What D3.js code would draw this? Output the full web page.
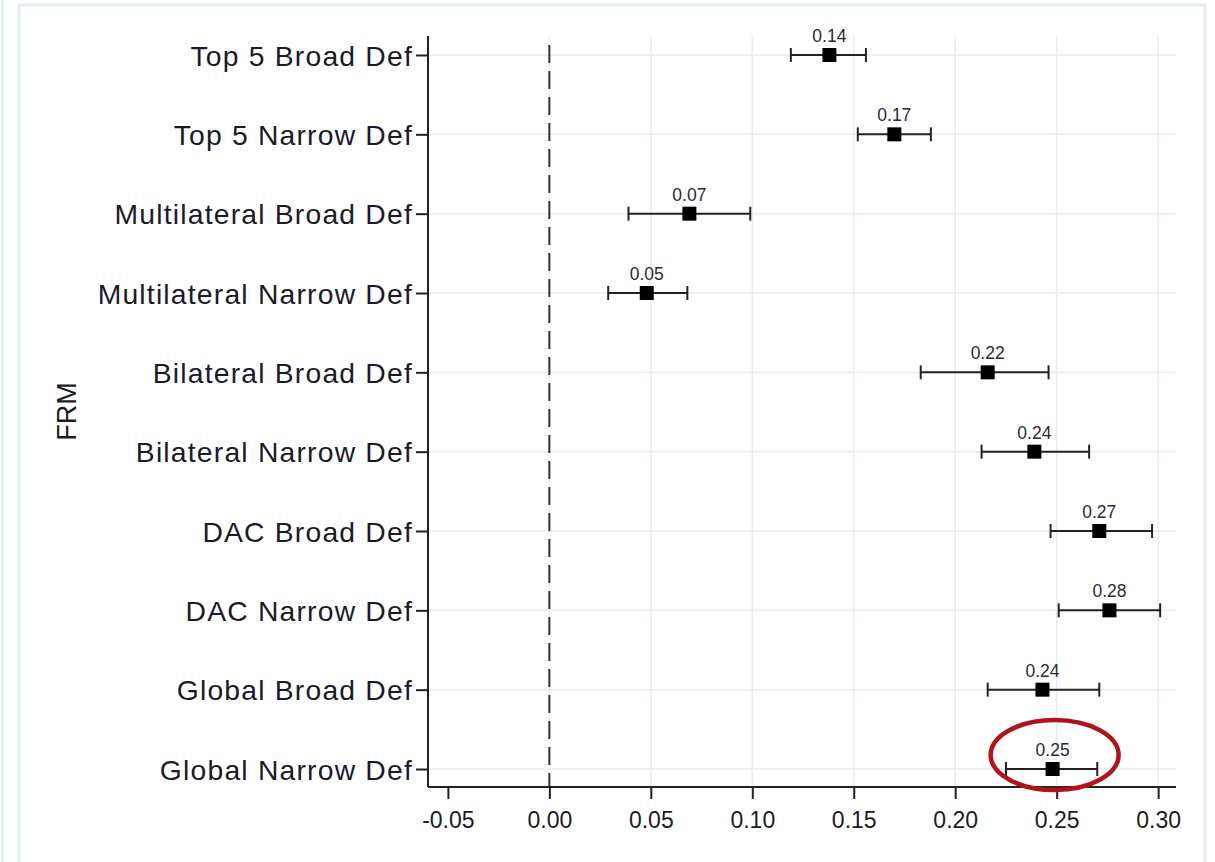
<!DOCTYPE html>
<html>
<head>
<meta charset="utf-8">
<script src="https://cdn.jsdelivr.net/npm/d3@7"></script>
<style>
  html, body { margin: 0; padding: 0; background: #ffffff; }
  svg { display: block; font-family: Arial, "Liberation Sans", sans-serif; }
</style>
</head>
<body>
<svg id="chart" width="1215" height="862"></svg>
<script>
// Coefficient estimates with confidence intervals, one row per FRM definition
const categories = [
  "Top 5 Broad Def", "Top 5 Narrow Def",
  "Multilateral Broad Def", "Multilateral Narrow Def",
  "Bilateral Broad Def", "Bilateral Narrow Def",
  "DAC Broad Def", "DAC Narrow Def",
  "Global Broad Def", "Global Narrow Def"
];
const estimates = [0.138, 0.170, 0.069, 0.048, 0.216, 0.239, 0.271, 0.276, 0.243, 0.248];
const lowerCI   = [0.119, 0.152, 0.039, 0.029, 0.183, 0.213, 0.247, 0.251, 0.216, 0.225];
const upperCI   = [0.156, 0.188, 0.099, 0.068, 0.246, 0.266, 0.297, 0.301, 0.271, 0.270];
const xTicks    = [-0.05, 0.00, 0.05, 0.10, 0.15, 0.20, 0.25, 0.30];
const yTitle    = "FRM";
const highlighted = "Global Narrow Def";

const rows = categories.map((c, i) => ({ cat: c, est: estimates[i], lo: lowerCI[i], hi: upperCI[i] }));
const fmt = d3.format(".2f");
const textColor = "#1a1a2a";

const svg = d3.select("#chart");
const plot = { left: 428, right: 1176, top: 36, bottom: 787 };

// Outer graph-region frames
svg.append("rect").attr("x", 1).attr("y", -2).attr("width", 3).attr("height", 870)
  .attr("fill", "#e6eff4");
svg.append("rect").attr("x", 19).attr("y", 5).attr("width", 1186).attr("height", 870)
  .attr("fill", "#ffffff").attr("stroke", "#e4edf2").attr("stroke-width", 3);

const x = d3.scaleLinear().domain([-0.0598, 0.3088]).range([plot.left, plot.right]);
const y = d3.scalePoint().domain(categories).range([55, 769]);

// Grid lines
svg.append("g").selectAll("line").data(xTicks.slice(1)).join("line")
  .attr("x1", d => x(d)).attr("x2", d => x(d))
  .attr("y1", plot.top).attr("y2", plot.bottom)
  .attr("stroke", "#e4edf2").attr("stroke-width", 1.5);
svg.append("g").selectAll("line").data(categories).join("line")
  .attr("x1", plot.left).attr("x2", plot.right)
  .attr("y1", d => y(d)).attr("y2", d => y(d))
  .attr("stroke", "#e4edf2").attr("stroke-width", 1.5);

// Zero reference line
svg.append("line")
  .attr("x1", x(0)).attr("x2", x(0))
  .attr("y1", 45).attr("y2", plot.bottom)
  .attr("stroke", "#333").attr("stroke-width", 2)
  .attr("stroke-dasharray", "18,8");

// X axis
const xAxis = svg.append("g")
  .attr("transform", `translate(0,${plot.bottom})`)
  .call(d3.axisBottom(x).tickValues(xTicks).tickFormat(fmt).tickSize(12).tickSizeOuter(0));
xAxis.select(".domain").attr("stroke", "#222").attr("stroke-width", 2)
  .attr("d", `M${plot.left},0H${plot.right}`);
xAxis.selectAll(".tick line").attr("stroke", "#222").attr("stroke-width", 2);
xAxis.selectAll(".tick text").attr("font-size", 23).attr("fill", textColor)
  .attr("font-family", "Arial, 'Liberation Sans', sans-serif")
  .attr("y", 41).attr("dy", 0)
  .text(d => fmt(d).replace("−", "-"));

// Y axis
const yAxis = svg.append("g")
  .attr("transform", `translate(${plot.left},0)`)
  .call(d3.axisLeft(y).tickSize(12).tickPadding(3));
yAxis.select(".domain").attr("stroke", "#222").attr("stroke-width", 2)
  .attr("d", `M0,${plot.top}V${plot.bottom}`);
yAxis.selectAll(".tick line").attr("stroke", "#222").attr("stroke-width", 2);
yAxis.selectAll(".tick text").attr("font-size", 28.3).attr("fill", textColor)
  .attr("letter-spacing", "1.2px").attr("dy", "0.36em")
  .attr("font-family", "Arial, 'Liberation Sans', sans-serif");

// Y title
svg.append("text")
  .attr("transform", `translate(76,${(plot.top + plot.bottom) / 2}) rotate(-90)`)
  .attr("text-anchor", "middle")
  .attr("font-size", 27).attr("fill", textColor)
  .text(yTitle);

// Confidence intervals
const ci = svg.append("g").attr("stroke", "#222").attr("stroke-width", 2);
ci.selectAll("line.bar").data(rows).join("line").attr("class", "bar")
  .attr("x1", d => x(d.lo)).attr("x2", d => x(d.hi))
  .attr("y1", d => y(d.cat)).attr("y2", d => y(d.cat));
ci.selectAll("line.capl").data(rows).join("line").attr("class", "capl")
  .attr("x1", d => x(d.lo)).attr("x2", d => x(d.lo))
  .attr("y1", d => y(d.cat) - 7).attr("y2", d => y(d.cat) + 7);
ci.selectAll("line.caph").data(rows).join("line").attr("class", "caph")
  .attr("x1", d => x(d.hi)).attr("x2", d => x(d.hi))
  .attr("y1", d => y(d.cat) - 7).attr("y2", d => y(d.cat) + 7);

// Point estimates
svg.append("g").selectAll("rect").data(rows).join("rect")
  .attr("x", d => x(d.est) - 7).attr("y", d => y(d.cat) - 7)
  .attr("width", 14).attr("height", 14).attr("fill", "#000");

// Value labels
svg.append("g").selectAll("text").data(rows).join("text")
  .attr("x", d => x(d.est)).attr("y", d => y(d.cat) - 13)
  .attr("text-anchor", "middle").attr("font-size", 17.5).attr("fill", "#2a2a35")
  .text(d => fmt(d.est));

// Highlight ring around one estimate
const hl = rows.find(d => d.cat === highlighted);
svg.append("ellipse")
  .attr("cx", x(hl.est) + 2).attr("cy", y(hl.cat) - 14)
  .attr("rx", 64).attr("ry", 35)
  .attr("fill", "none").attr("stroke", "#b0141a").attr("stroke-width", 4.5);
</script>
</body>
</html>
